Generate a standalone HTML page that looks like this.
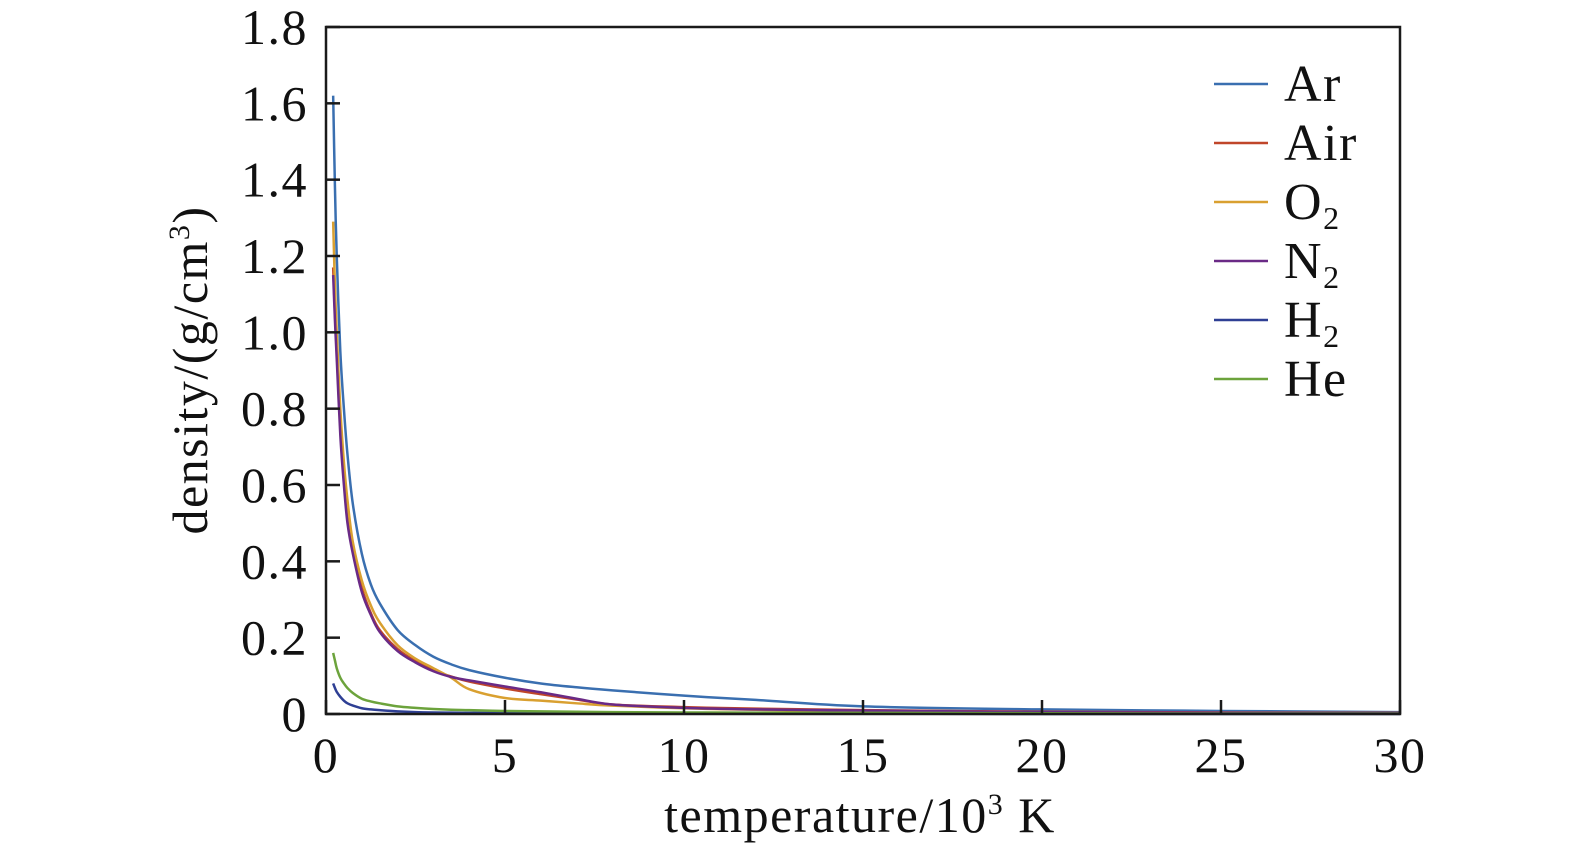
<!DOCTYPE html>
<html><head><meta charset="utf-8"><style>
body{margin:0;background:#fff}
svg text{font-family:"Liberation Serif","Times New Roman",serif;fill:#111;letter-spacing:1.5px}
</style></head><body>
<svg id="chart" width="1575" height="853">
<g id="series"></g>
<rect x="326" y="27" width="1074" height="687" fill="none" stroke="#1a1a1a" stroke-width="2.5"/>
<g id="axes"></g>
<text x="860" y="832" font-size="50" text-anchor="middle">temperature/10<tspan font-size="30" dy="-18">3</tspan><tspan dy="18"> K</tspan></text>
<text transform="translate(207,370) rotate(-90)" font-size="50" text-anchor="middle">density/(g/cm<tspan font-size="30" dy="-18">3</tspan><tspan dy="18">)</tspan></text>
<g id="legend"></g>
</svg>
<script>
const temps=[0.2,0.25,0.3,0.4,0.5,0.6,0.75,1,1.25,1.5,2,2.5,3,3.5,4,5,6,7,8,10,12,15,20,25,30];
const ar=[1.62,1.38,1.2,0.95,0.8,0.68,0.55,0.42,0.34,0.29,0.22,0.18,0.15,0.13,0.115,0.095,0.08,0.07,0.062,0.048,0.037,0.02,0.012,0.008,0.005];
const air=[1.17,1.05,0.95,0.75,0.62,0.52,0.43,0.33,0.265,0.22,0.17,0.138,0.115,0.098,0.085,0.067,0.052,0.038,0.025,0.018,0.014,0.01,0.006,0.004,0.003];
const o2=[1.29,1.12,1.0,0.8,0.66,0.56,0.45,0.35,0.285,0.24,0.18,0.145,0.12,0.095,0.065,0.042,0.035,0.028,0.022,0.015,0.011,0.007,0.004,0.003,0.002];
const n2=[1.15,1.03,0.93,0.73,0.6,0.5,0.42,0.32,0.26,0.215,0.165,0.135,0.112,0.097,0.088,0.072,0.057,0.04,0.025,0.016,0.012,0.009,0.005,0.003,0.002];
const h2=[0.08,0.068,0.058,0.045,0.035,0.028,0.022,0.015,0.012,0.01,0.007,0.005,0.004,0.0035,0.003,0.003,0.002,0.002,0.001,0.001,0.001,0.001,0,0,0];
const he=[0.16,0.14,0.12,0.095,0.08,0.068,0.055,0.04,0.033,0.028,0.02,0.016,0.013,0.011,0.01,0.008,0.007,0.006,0.005,0.004,0.0035,0.003,0.002,0.001,0.001];
const xTicks=[0,5,10,15,20,25,30];
const yTicks=[0,0.2,0.4,0.6,0.8,1.0,1.2,1.4,1.6,1.8];
const yTickLabels=["0","0.2","0.4","0.6","0.8","1.0","1.2","1.4","1.6","1.8"];
const seriesNames=["Ar","Air","O2","N2","H2","He"];
const NS="http://www.w3.org/2000/svg";
const X=v=>326+v*(1074/30);
const Y=v=>714-v*(687/1.8);
const list=[[ar,"#3a6fb0"],[air,"#c0462a"],[o2,"#d9a030"],[n2,"#6a2a86"],[h2,"#2e3f94"],[he,"#6ca33c"]];
function smooth(pts){
  let d="M"+pts[0][0]+","+pts[0][1];
  for(let i=0;i<pts.length-1;i++){
    const p0=pts[Math.max(0,i-1)],p1=pts[i],p2=pts[i+1],p3=pts[Math.min(pts.length-1,i+2)];
    const c1x=p1[0]+(p2[0]-p0[0])/6,c1y=p1[1]+(p2[1]-p0[1])/6;
    const c2x=p2[0]-(p3[0]-p1[0])/6,c2y=p2[1]-(p3[1]-p1[1])/6;
    d+=" C"+c1x+","+c1y+" "+c2x+","+c2y+" "+p2[0]+","+p2[1];
  }
  return d;
}
const sg=document.getElementById("series");
list.forEach((s,i)=>{
  const p=document.createElementNS(NS,"path");
  p.setAttribute("d",smooth(temps.map((t,j)=>[X(t),Y(s[0][j])])));
  p.setAttribute("fill","none");p.setAttribute("stroke",s[1]);p.setAttribute("stroke-width","2.5");
  
  
  sg.appendChild(p);
});
const ax=document.getElementById("axes");
xTicks.forEach(v=>{
  const l=document.createElementNS(NS,"line");
  l.setAttribute("x1",X(v));l.setAttribute("x2",X(v));l.setAttribute("y1",714);l.setAttribute("y2",700);
  l.setAttribute("stroke","#1a1a1a");l.setAttribute("stroke-width","2.5");
  
  
  ax.appendChild(l);
  const t=document.createElementNS(NS,"text");
  t.setAttribute("x",X(v));t.setAttribute("y",772);t.setAttribute("font-size","50");t.setAttribute("text-anchor","middle");
  t.textContent=v;
  
  
  ax.appendChild(t);
});
yTicks.forEach((v,i)=>{
  const l=document.createElementNS(NS,"line");
  l.setAttribute("x1",326);l.setAttribute("x2",340);l.setAttribute("y1",Y(v));l.setAttribute("y2",Y(v));
  l.setAttribute("stroke","#1a1a1a");l.setAttribute("stroke-width","2.5");
  
  
  ax.appendChild(l);
  const t=document.createElementNS(NS,"text");
  t.setAttribute("x",308);t.setAttribute("y",Y(v)+17);t.setAttribute("font-size","50");t.setAttribute("text-anchor","end");
  t.textContent=yTickLabels[i];
  
  
  ax.appendChild(t);
});
const lg=document.getElementById("legend");
const labels=[["Ar",""],["Air",""],["O","2"],["N","2"],["H","2"],["He",""]];
list.forEach((s,i)=>{
  const y=84+i*59;
  const l=document.createElementNS(NS,"line");
  l.setAttribute("x1",1214);l.setAttribute("x2",1268);l.setAttribute("y1",y);l.setAttribute("y2",y);
  l.setAttribute("stroke",s[1]);l.setAttribute("stroke-width","2.5");
  
  
  lg.appendChild(l);
  const t=document.createElementNS(NS,"text");
  t.setAttribute("x",1284);t.setAttribute("y",y+17);t.setAttribute("font-size","52");
  t.textContent=labels[i][0];
  if(labels[i][1]){const ts=document.createElementNS(NS,"tspan");ts.setAttribute("font-size","32");ts.setAttribute("dy","10");ts.textContent=labels[i][1];t.appendChild(ts);}
  
  
  lg.appendChild(t);
});
</script>
</body></html>
